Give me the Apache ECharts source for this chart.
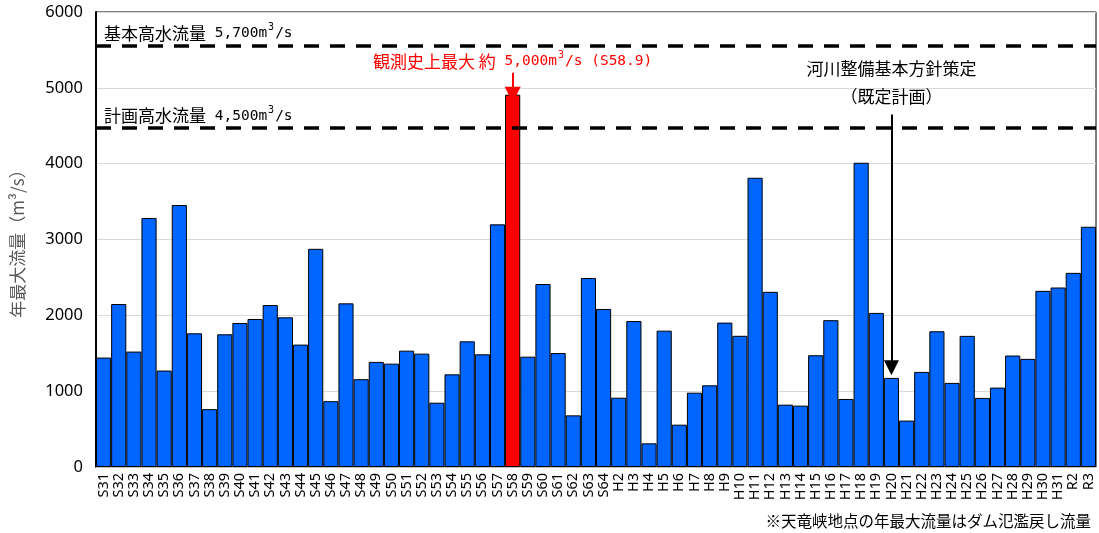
<!DOCTYPE html>
<html>
<head>
<meta charset="utf-8">
<script src="https://cdn.jsdelivr.net/npm/echarts@6/dist/echarts.min.js"></script>
<style>
  html, body { margin: 0; padding: 0; background: #fff; }
  #chart { width: 1099px; height: 533px; }
</style>
</head>
<body>
<div id="chart"></div>
<script>
// 年度
var years = ['S31','S32','S33','S34','S35','S36','S37','S38','S39','S40','S41','S42','S43','S44','S45','S46','S47','S48','S49','S50',
  'S51','S52','S53','S54','S55','S56','S57','S58','S59','S60','S61','S62','S63','S64',
  'H2','H3','H4','H5','H6','H7','H8','H9','H10','H11','H12','H13','H14','H15','H16','H17','H18','H19','H20',
  'H21','H22','H23','H24','H25','H26','H27','H28','H29','H30','H31','R2','R3'];
// 年最大流量 (m3/s)
var flows = [1443, 2149, 1522, 3284, 1272, 3455, 1763, 763, 1750, 1899, 1952, 2136, 1974, 1614, 2877, 868, 2158, 1158, 1386, 1363,
  1534, 1495, 848, 1222, 1657, 1486, 3200, 4910, 1455, 2413, 1503, 681, 2492, 2084,
  914, 1925, 312, 1798, 558, 980, 1077, 1904, 1730, 3814, 2310, 822, 809, 1474, 1936, 897, 4012, 2032, 1175,
  612, 1254, 1790, 1109, 1729, 911, 1047, 1470, 1426, 2323, 2367, 2560, 3168];
var maxYear = 'S58';      // 観測史上最大
var planYear = 'H20';     // 河川整備基本方針策定
// 基本高水流量 / 計画高水流量 (as drawn)
var basicLine = 5560;
var planLine = 4470;
var yTicks = [0, 1000, 2000, 3000, 4000, 5000, 6000];

var JP = '"Noto Sans CJK JP", sans-serif';
var MONO = '"DejaVu Sans Mono", monospace';
var chart = echarts.init(document.getElementById('chart'));

var barData = flows.map(function (v, i) {
  if (years[i] === maxYear) return { value: v, itemStyle: { color: '#FF0000' } };
  return v;
});

var supRich = {
  a: { fontFamily: JP, fontSize: 17, color: '#000' },
  n: { fontFamily: MONO, fontSize: 14.5, color: '#000' },
  s: { fontFamily: MONO, fontSize: 10, color: '#000', verticalAlign: 'top', padding: [0, 1, 12, 1] },
  r: { fontFamily: JP, fontSize: 17, color: '#FF0000' },
  rn: { fontFamily: MONO, fontSize: 14.5, color: '#FF0000' },
  rs: { fontFamily: MONO, fontSize: 10, color: '#FF0000', verticalAlign: 'top', padding: [0, 1, 12, 1] }
};

var option = {
  animation: false,
  grid: { left: 96, right: 3, top: 12, bottom: 66, show: true, borderColor: '#000', borderWidth: 1 },
  xAxis: {
    type: 'category',
    data: years,
    axisLine: { lineStyle: { color: '#bfbfbf', width: 1 } },
    axisTick: { show: false },
    axisLabel: { rotate: 90, interval: 0, fontSize: 14.5, color: '#000', fontFamily: 'Noto Sans', margin: 6 }
  },
  yAxis: {
    type: 'value',
    min: yTicks[0],
    max: yTicks[yTicks.length - 1],
    interval: 1000,
    name: '年最大流量（m³/s）',
    nameLocation: 'middle',
    nameGap: 70,
    nameTextStyle: { fontFamily: JP, fontSize: 17, color: '#595959' },
    axisLine: { show: true, lineStyle: { color: '#000', width: 2 } },
    axisTick: { show: false },
    axisLabel: { fontSize: 16.5, color: '#000', fontFamily: 'Noto Sans', margin: 13, formatter: function (v) { return String(v); } },
    splitLine: { lineStyle: { color: '#d9d9d9', width: 1 } }
  },
  series: [{
    type: 'bar',
    data: barData,
    barCategoryGap: 0,
    itemStyle: { color: '#0066FF', borderColor: '#000', borderWidth: 1 },
    markLine: {
      silent: true,
      animation: false,
      symbol: ['none', 'none'],
      data: [
        {
          yAxis: basicLine,
          lineStyle: { color: '#000', width: 3.5, type: [15, 11] },
          label: {
            show: true, position: 'insideStartTop', distance: [8, 1],
            formatter: '{a|基本高水流量}{n| 5,700m}{s|3}{n|/s}', rich: supRich
          }
        },
        {
          yAxis: planLine,
          lineStyle: { color: '#000', width: 3.5, type: [15, 11] },
          label: {
            show: true, position: 'insideStartTop', distance: [8, 1],
            formatter: '{a|計画高水流量}{n| 4,500m}{s|3}{n|/s}', rich: supRich
          }
        },
        [
          { coord: [maxYear, 5200], symbol: 'none',
            lineStyle: { color: '#FF0000', width: 2, type: 'solid' },
            label: { show: true, position: 'start', distance: 0,
              formatter: '{r|観測史上最大 約}{rn| 5,000m}{rs|3}{rn|/s (S58.9)}', rich: supRich } },
          { coord: [maxYear, flows[years.indexOf(maxYear)]], symbol: 'triangle', symbolSize: [16, 16], symbolRotate: 180 }
        ],
        [
          { coord: [planYear, 4650], symbol: 'none',
            lineStyle: { color: '#000', width: 2, type: 'solid' },
            label: { show: true, position: 'start', distance: 4, lineHeight: 28,
              fontFamily: JP, fontSize: 17, color: '#000', align: 'center',
              formatter: '河川整備基本方針策定\n（既定計画）' } },
          { coord: [planYear, 1310], symbol: 'triangle', symbolSize: [15, 15], symbolRotate: 180 }
        ]
      ]
    }
  }],
  graphic: [{
    type: 'text',
    right: 8,
    bottom: 4,
    style: { text: '※天竜峡地点の年最大流量はダム氾濫戻し流量', font: '15.5px "Noto Sans CJK JP"', fill: '#000' }
  }]
};

chart.setOption(option);
</script>
</body>
</html>
